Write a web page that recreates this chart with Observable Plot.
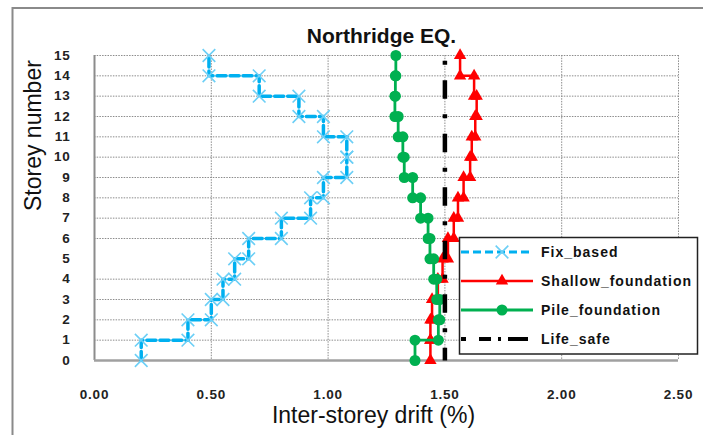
<!DOCTYPE html>
<html><head><meta charset="utf-8">
<script src="https://cdn.jsdelivr.net/npm/d3@7"></script>
<script src="https://cdn.jsdelivr.net/npm/@observablehq/plot@0.6"></script>
<style>
html,body{margin:0;padding:0;background:#fff;}
#chart svg{display:block;}
#chart g[aria-label="x-axis tick label"], #chart g[aria-label="y-axis tick label"]{letter-spacing:0.8px;}
</style></head><body><div id="chart"></div>
<script>
// ---- data ----
const title = "Northridge EQ.";
const xLabel = "Inter-storey drift (%)";
const yLabel = "Storey number";
const storeys = [1, 2, 3, 4, 5, 6, 7, 8, 9, 10, 11, 12, 13, 14, 15];
const fixBased = [0.20, 0.40, 0.50, 0.55, 0.60, 0.66, 0.80, 0.925, 0.98, 1.08, 1.08, 0.98, 0.875, 0.705, 0.49];
const shallowFoundation = [1.438, 1.438, 1.445, 1.47, 1.49, 1.513, 1.538, 1.556, 1.58, 1.608, 1.615, 1.63, 1.636, 1.625, 1.565];
const pileFoundation = [1.372, 1.472, 1.478, 1.465, 1.452, 1.436, 1.428, 1.396, 1.362, 1.326, 1.32, 1.30, 1.286, 1.288, 1.29];
const lifeSafe = 1.5;
const seriesNames = ["Fix_based", "Shallow_foundation", "Pile_foundation", "Life_safe"];
const xTicks = [0, 0.5, 1, 1.5, 2, 2.5];
const yTicks = [0, 1, 2, 3, 4, 5, 6, 7, 8, 9, 10, 11, 12, 13, 14, 15];
const yGridLevels = [1, 2, 3, 4, 6, 7, 8, 9, 10, 11, 12, 13, 14, 15]; // level-5 gridline absent in reference

// each storey's drift is held constant between floor (storey-1) and storey
function profile(drifts) {
  const pts = [];
  drifts.forEach((d, i) => {
    pts.push({x: d, y: storeys[i] - 1});
    pts.push({x: d, y: storeys[i]});
  });
  return pts;
}
const fixData = profile(fixBased);
const shallowData = profile(shallowFoundation);
const pileData = profile(pileFoundation);
const lifeData = [{x: lifeSafe, y: yTicks[yTicks.length - 1]}, {x: lifeSafe, y: yTicks[0]}];

const grid = {stroke: "#8c8c8c", strokeOpacity: 1, strokeWidth: 1, strokeDasharray: "1.5,1.2"};
const FIX = "#00B0F0", FIXM = "#6CCFF6", RED = "#FF0000", GREEN = "#00B050";
const TRI_R = 4.6;

const svg = Plot.plot({
  width: 703, height: 435,
  marginLeft: 94, marginRight: 25, marginTop: 55, marginBottom: 75,
  style: {fontFamily: "'Liberation Sans', Arial, sans-serif", background: "#fff", color: "#222"},
  x: {domain: [0, 2.5]},
  y: {domain: [0, 15]},
  marks: [
    Plot.gridY(yGridLevels, grid),
    Plot.gridX(xTicks.filter(d => d > 0), grid),
    Plot.ruleX([0], {stroke: "#8c8c8c", strokeWidth: 2}),
    Plot.ruleY([0], {stroke: "#a0a0a0", strokeWidth: 2.5}),
    Plot.axisX({ticks: xTicks, tickFormat: d => d.toFixed(2), tickSize: 0, tickPadding: 29, label: null, fontSize: 13.5, fontWeight: "bold", fill: "#222"}),
    Plot.axisY({ticks: yTicks, tickFormat: d => String(d), tickSize: 0, tickPadding: 24, label: null, fontSize: 13.5, fontWeight: "bold", fill: "#222"}),
    // Fix_based
    Plot.line(fixData, {x: "x", y: "y", stroke: FIX, strokeWidth: 3.5, strokeDasharray: "9,4"}),
    Plot.dot(fixData, {x: "x", y: "y", symbol: "times", r: 5.8, stroke: FIXM, strokeWidth: 1.6}),
    // Shallow_foundation
    Plot.line(shallowData, {x: "x", y: "y", stroke: RED, strokeWidth: 2.5}),
    Plot.dot(shallowData, {x: "x", y: "y", symbol: "triangle", r: TRI_R, fill: RED, stroke: "none"}),
    // Pile_foundation
    Plot.line(pileData, {x: "x", y: "y", stroke: GREEN, strokeWidth: 2.8}),
    Plot.dot(pileData, {x: "x", y: "y", symbol: "circle", r: 5.5, fill: GREEN, stroke: "none"}),
    // Life_safe
    Plot.line(lifeData, {x: "x", y: "y", stroke: "#000", strokeWidth: 4.5, strokeDasharray: "18.5,15.5,4,15.5", strokeDashoffset: 28.8, strokeLinecap: "butt"}),
    // titles
    Plot.text([title], {frameAnchor: "top", dy: -27, dx: -5, fontSize: 21, fontWeight: "bold", fill: "#111"}),
    Plot.text([xLabel], {frameAnchor: "bottom", dy: 62, dx: -13, fontSize: 23, fill: "#111"}),
    Plot.text([yLabel], {frameAnchor: "left", dx: -61, dy: 3, rotate: -90, fontSize: 23, fill: "#111"})
  ]
});

// ---- outer chart border and legend ----
const s = d3.select(svg);
s.append("path").attr("d", "M12.5,435V8H703").attr("fill", "none").attr("stroke", "#8a8a8a").attr("stroke-width", 2);

const legendStyles = [
  {stroke: FIX, width: 3, dash: "8,4", symbol: d3.symbolTimes, r: 5.8, fill: "none", mstroke: FIXM},
  {stroke: RED, width: 2.5, dash: null, symbol: d3.symbolTriangle, r: TRI_R, fill: RED, mstroke: "none"},
  {stroke: GREEN, width: 2.8, dash: null, symbol: d3.symbolCircle, r: 5.5, fill: GREEN, mstroke: "none"},
  {stroke: "#000", width: 4, dash: "5,13,12,7,3,7,20", symbol: null}
];
const lg = s.append("g").attr("aria-label", "legend");
lg.append("rect").attr("x", 459.5).attr("y", 237.5).attr("width", 238).attr("height", 116.5)
  .attr("fill", "#fff").attr("stroke", "#222").attr("stroke-width", 1.5);
seriesNames.forEach((name, i) => {
  const st = legendStyles[i];
  const y = 252 + i * 29;
  const g = lg.append("g");
  const ln = g.append("line").attr("x1", 461).attr("x2", 533).attr("y1", y).attr("y2", y)
    .attr("stroke", st.stroke).attr("stroke-width", st.width);
  if (st.dash) ln.attr("stroke-dasharray", st.dash);
  if (st.symbol) {
    g.append("path").attr("transform", `translate(502,${y})`)
      .attr("d", d3.symbol(st.symbol, Math.PI * st.r * st.r)())
      .attr("fill", st.fill).attr("stroke", st.mstroke).attr("stroke-width", 1.6);
  }
  g.append("text").attr("x", 541).attr("y", y).attr("dy", "0.35em")
    .attr("text-anchor", "start")
    .attr("font-size", 14).attr("font-weight", "bold").attr("letter-spacing", "1px")
    .attr("fill", "#111").text(name);
});

document.getElementById("chart").appendChild(svg);
</script></body></html>
